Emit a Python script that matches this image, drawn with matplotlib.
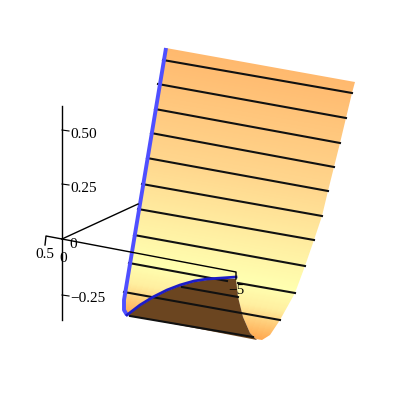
import numpy as np
import matplotlib
matplotlib.use('Agg')
import matplotlib.pyplot as plt
from matplotlib.patches import Polygon
from matplotlib.colors import LinearSegmentedColormap

plt.rcParams['font.family'] = ['Liberation Serif', 'DejaVu Serif']

outline_x = [166, 355, 352, 346, 340, 334, 328, 322, 314, 305, 295, 280, 270, 262, 256, 250, 243, 238, 236, 127, 124]
outline_y = [48, 82, 93, 118, 143, 167, 191, 216, 240, 266, 293, 320, 335, 340, 339, 333, 317, 297, 279, 315, 300]

inner_x = [127, 140, 153, 167, 180, 194, 207, 222, 236, 238, 243, 250, 257]
inner_y = [315, 306, 298, 291, 286, 282, 280, 279, 279, 297, 317, 333, 340]

arc_x = [127, 140, 153, 167, 180, 194, 207, 222, 236]
arc_y = [315, 305, 297, 290, 285, 281, 279, 278, 277]

edge_x = [166, 124, 124, 127]
edge_y = [48, 300, 310, 315]

left_x = [163, 158, 155, 151, 147, 142, 138, 134, 129, 124]
left_y = [60, 84, 109, 133, 158, 184, 209, 235, 263, 292]
right_x = [352, 346, 340, 334, 328, 322, 314, 305, 295, 280]
right_y = [93, 118, 143, 167, 191, 216, 240, 266, 293, 320]

# pieces of the same lines that sit on the dark inside
extra_x = [(182, 238), (130, 253)]
extra_y = [(287, 297), (316, 337)]

ztick_y = [131, 185, 296]
ztick_labels = ['0.50', '0.25', '\u22120.25']

height_stops = [0.0, 0.40, 0.80, 0.88, 1.0]
height_colors = ['#ffb96e', '#ffd58c', '#ffffb0', '#ffefa0', '#ffa850']

fig = plt.figure(figsize=(4, 4), dpi=100)
ax = fig.add_axes([0, 0, 1, 1])
ax.set_xlim(0, 400)
ax.set_ylim(400, 0)
ax.axis('off')

# colour follows the height on the surface, the iso lines tilt like the black ones
cmap = LinearSegmentedColormap.from_list('surf', list(zip(height_stops, height_colors)))
xx, yy = np.meshgrid(np.arange(100, 380), np.arange(30, 350))
hh = (yy - 0.178 * (xx - 125) - 41) / 274
mesh = ax.pcolormesh(xx, yy, hh, cmap=cmap, vmin=0, vmax=1, shading='auto', zorder=1)
clip = Polygon(np.column_stack([outline_x, outline_y]), closed=True, transform=ax.transData,
               facecolor='none', edgecolor='none')
ax.add_patch(clip)
mesh.set_clip_path(clip)

ax.fill(inner_x, inner_y, color='#6b4520', lw=0, zorder=2)

# black lines across the surface
for i in range(len(left_x)):
    if i == 8:
        ax.plot([left_x[i], 227], [left_y[i], 281], color='#111111', lw=1.5, zorder=3)
        ax.plot([238, right_x[i]], [283, right_y[i]], color='#111111', lw=1.5, zorder=3)
    else:
        ax.plot([left_x[i], right_x[i]], [left_y[i], right_y[i]], color='#111111', lw=1.5, zorder=3)
for xs, ys in zip(extra_x, extra_y):
    ax.plot(xs, ys, color='#111111', lw=1.5, zorder=3)

ax.plot(edge_x, edge_y, color='#4f4fff', lw=2.8, zorder=4, solid_capstyle='butt')
ax.plot(arc_x, arc_y, color='#1c1cc8', lw=2, zorder=4)

# axes
ax.plot([62, 62], [106, 320], color='black', lw=1, zorder=5)
for y in ztick_y:
    ax.plot([62, 69], [y - 1, y], color='black', lw=0.8, zorder=5)
ax.plot([62, 46, 45], [239, 236, 245], color='black', lw=1, zorder=5)
ax.plot([62, 138], [239, 204], color='black', lw=1, zorder=5)
ax.plot([62, 236, 236], [239, 272, 279], color='black', lw=1, zorder=5)

for y, lab in zip(ztick_y, ztick_labels):
    ax.text(70, y + 3, lab, fontsize=11, ha='left', va='center', zorder=6)
ax.text(73, 244, '0', fontsize=11, ha='center', va='center', zorder=6)
ax.text(63, 258, '0', fontsize=11, ha='center', va='center', zorder=6)
ax.text(45, 255, '0.5', fontsize=11, ha='center', va='center', zorder=6)
ax.text(236, 290, '\u22125', fontsize=11, ha='center', va='center', zorder=6)

fig.savefig('out.png', dpi=100)
